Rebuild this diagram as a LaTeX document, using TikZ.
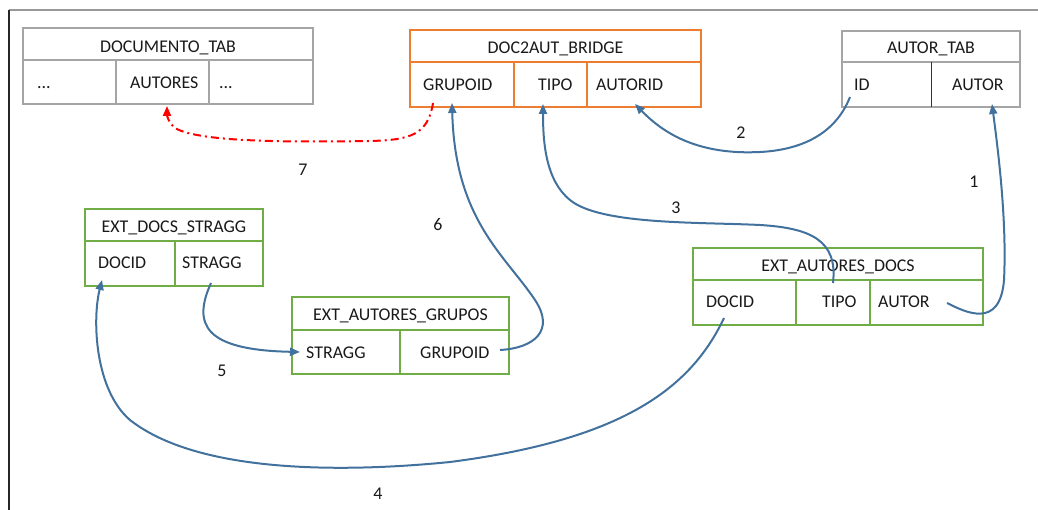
\documentclass[tikz,border=0pt]{standalone}
\usepackage{fontspec}
\setmainfont{Carlito}
\usetikzlibrary{arrows.meta}
\definecolor{linkblue}{RGB}{65,113,156}
\definecolor{tabgray}{RGB}{165,165,165}
\definecolor{taborange}{RGB}{237,125,49}
\definecolor{tabgreen}{RGB}{112,173,71}
\begin{document}
\begin{tikzpicture}[x=1pt,y=-1pt,
  cell/.style={line width=2pt},
  txt/.style={inner sep=0pt, font=\fontsize{17.9}{21}\selectfont, text=black!90},
  ttl/.style={txt, anchor=base},
  fld/.style={txt, anchor=base west},
  num/.style={txt, anchor=base},
  link/.style={linkblue, line width=2pt, -{Triangle[length=10pt,width=8pt]}},
  refl/.style={red, line width=2pt, dash pattern=on 8pt off 4pt on 2pt off 4pt, -{Triangle[length=10pt,width=8pt]}}
]
\useasboundingbox (0,0) rectangle (1038,510);
% page frame
\draw[gray!80, line width=1.5pt] (9,10) -- (1038,10);
\draw[black!85, line width=1.5pt] (9,10) -- (9,510);

% DOCUMENTO_TAB
\draw[tabgray, cell] (23,28) rectangle (313,104);
\draw[tabgray, cell] (23,60) -- (313,60) (116,60) -- (116,104) (209,60) -- (209,104);
\node[ttl] (docTitle) at (168,53) {DOCUMENTO\_TAB};
\node[fld] (docA) at (37,89) {...};
\node[fld] (docAut) at (130,89) {AUTORES};
\node[fld] (docB) at (219,89) {...};

% DOC2AUT_BRIDGE
\draw[taborange, cell] (410,30) rectangle (701,107);
\draw[taborange, cell] (410,62) -- (701,62) (514,62) -- (514,107) (587,62) -- (587,107);
\node[ttl] (brTitle) at (555.5,54) {DOC2AUT\_BRIDGE};
\node[fld] (brGrp) at (423,91) {GRUPOID};
\node[fld] (brTipo) at (538,91) {TIPO};
\node[fld] (brAut) at (596,91) {AUTORID};

% AUTOR_TAB
\draw[tabgray, cell] (842,31) rectangle (1020,107);
\draw[tabgray, cell] (842,62) -- (1020,62);
\draw[black!80, line width=1pt] (931,62) -- (931,107);
\node[ttl] (auTitle) at (931,54) {AUTOR\_TAB};
\node[fld] (auId) at (854,91) {ID};
\node[fld] (auAut) at (952,91) {AUTOR};

% EXT_DOCS_STRAGG
\draw[tabgreen, cell] (85,209) rectangle (263,286);
\draw[tabgreen, cell] (85,241) -- (263,241) (175,241) -- (175,286);
\node[ttl] (dsTitle) at (174,233) {EXT\_DOCS\_STRAGG};
\node[fld] (dsDoc) at (98,269) {DOCID};
\node[fld] (dsStr) at (182,269) {STRAGG};

% EXT_AUTORES_GRUPOS
\draw[tabgreen, cell] (292,297) rectangle (509,374);
\draw[tabgreen, cell] (292,330) -- (509,330) (400,330) -- (400,374);
\node[ttl] (agTitle) at (400.5,321) {EXT\_AUTORES\_GRUPOS};
\node[fld] (agStr) at (306,358) {STRAGG};
\node[fld] (agGrp) at (420,358) {GRUPOID};

% EXT_AUTORES_DOCS
\draw[tabgreen, cell] (693,248) rectangle (983,325);
\draw[tabgreen, cell] (693,280) -- (983,280) (796,280) -- (796,325) (870,280) -- (870,325);
\node[ttl] (adTitle) at (838,272) {EXT\_AUTORES\_DOCS};
\node[fld] (adDoc) at (706,308) {DOCID};
\node[fld] (adTipo) at (822,308) {TIPO};
\node[fld] (adAut) at (878,308) {AUTOR};

% connector ends
\coordinate (pAdAut) at (947,303);
\coordinate (pAuAut) at (992,104);
\coordinate (pAuId) at (850,97);
\coordinate (pBrAut) at (635,104);
\coordinate (pAdTipo) at (833,283);
\coordinate (pBrTipo) at (543,104);
\coordinate (pAdDoc) at (724,318);
\coordinate (pDsDoc) at (102,280);
\coordinate (pDsStr) at (211,283);
\coordinate (pAgStr) at (300,352);
\coordinate (pAgGrp) at (500,350);
\coordinate (pBrGrp) at (452,103);
\coordinate (pBrGrpOut) at (433,103);
\coordinate (pDocAut) at (167,106);

% links
\draw[link] (pAdAut) .. controls (965,312) and (1000,330) .. (1004,280)
  .. controls (1007,220) and (998,150) .. (pAuAut);
\draw[link] (pAuId) .. controls (835,135) and (800,150) .. (760,152)
  .. controls (700,155) and (665,135) .. (pBrAut);
\draw[link] (pAdTipo) .. controls (838,240) and (810,228) .. (760,225)
  .. controls (700,222) and (600,225) .. (570,200)
  .. controls (545,180) and (543,140) .. (pBrTipo);
\draw[link] (pAdDoc) .. controls (690,390) and (620,440) .. (450,462)
  .. controls (350,472) and (200,475) .. (130,420)
  .. controls (95,390) and (92,320) .. (pDsDoc);
\draw[link] (pDsStr) .. controls (192,325) and (205,350) .. (pAgStr);
\draw[link] (pAgGrp) .. controls (535,348) and (555,330) .. (535,300)
  .. controls (505,255) and (455,220) .. (pBrGrp);
\draw[refl] (pBrGrpOut) .. controls (428,135) and (410,140) .. (370,141)
  .. controls (300,142) and (200,143) .. (175,128)
  .. controls (168,122) and (167,115) .. (pDocAut);

% link numbers
\node[num] (n1) at (974,188) {1};
\node[num] (n2) at (741,139) {2};
\node[num] (n3) at (676,214) {3};
\node[num] (n4) at (378,499) {4};
\node[num] (n5) at (222,376) {5};
\node[num] (n6) at (438,231) {6};
\node[num] (n7) at (303,176) {7};
\end{tikzpicture}
\end{document}
